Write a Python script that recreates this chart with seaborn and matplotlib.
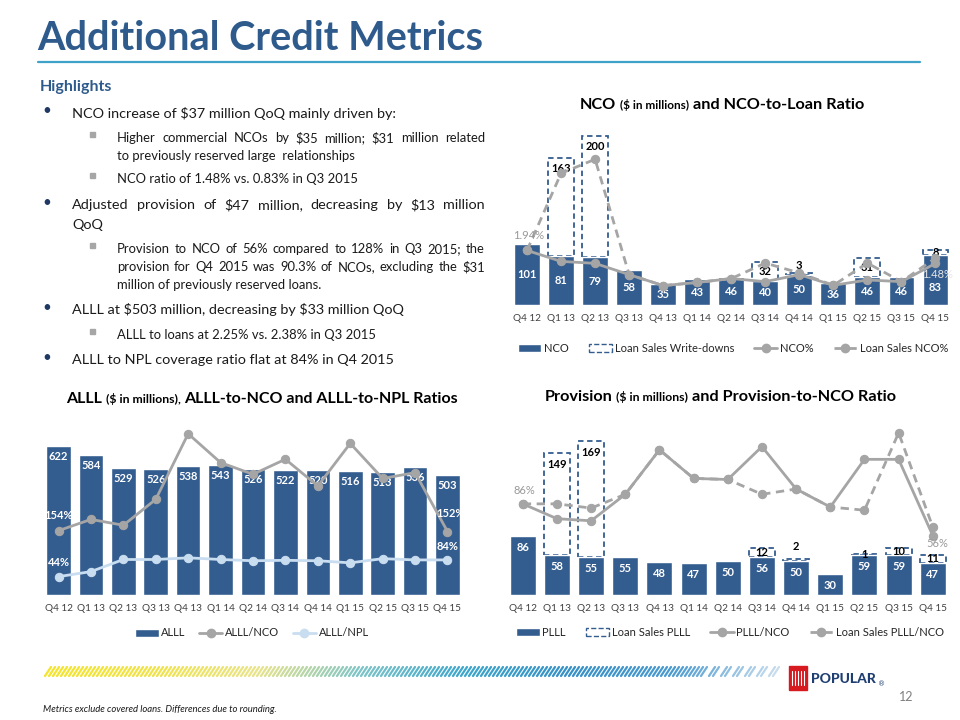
import numpy as np
import matplotlib
matplotlib.use('Agg')
import matplotlib.pyplot as plt
import seaborn as sns
from matplotlib.patches import Patch, Rectangle
from matplotlib.lines import Line2D
from matplotlib.colors import LinearSegmentedColormap

# data
quarters = ['Q4 12', 'Q1 13', 'Q2 13', 'Q3 13', 'Q4 13', 'Q1 14', 'Q2 14',
            'Q3 14', 'Q4 14', 'Q1 15', 'Q2 15', 'Q3 15', 'Q4 15']

nco = [101, 81, 79, 58, 35, 43, 46, 40, 50, 36, 46, 46, 83]
loan_sales_wd = [0, 163, 200, 0, 0, 0, 0, 32, 3, 0, 31, 0, 8]
nco_pct = [1.94, 1.55, 1.48, 1.08, 0.69, 0.80, 0.94, 0.83, 1.08, 0.70, 0.89, 0.83, 1.48]
loan_sales_nco_pct = [1.94, 4.68, 5.18, 1.08, 0.69, 0.80, 0.94, 1.49, 1.14, 0.70, 1.49, 0.83, 1.67]

alll = [622, 584, 529, 526, 538, 543, 526, 522, 520, 516, 513, 536, 503]
alll_nco = [154, 181, 167, 229, 386, 317, 289, 325, 261, 363, 279, 293, 152]
alll_npl = [44, 56, 85, 85, 89, 85, 82, 83, 82, 77, 87, 84, 84]

plll = [86, 58, 55, 55, 48, 47, 50, 56, 50, 30, 59, 59, 47]
loan_sales_plll = [0, 149, 169, 0, 0, 0, 0, 12, 2, 0, 1, 10, 11]
plll_nco = [86, 72, 70, 95, 137, 110, 109, 140, 100, 83, 128, 128, 56]
loan_sales_plll_nco = [86, 86, 82, 95, 137, 110, 109, 95, 100, 83, 80, 153, 64]

highlights = [
    ('main', 'NCO increase of $37 million QoQ mainly driven by:', False),
    ('sub', 'Higher commercial NCOs by $35 million; $31 million related', True),
    ('subc', 'to previously reserved large  relationships', False),
    ('sub', 'NCO ratio of 1.48% vs. 0.83% in Q3 2015', False),
    ('main', 'Adjusted provision of $47 million, decreasing by $13 million', True),
    ('mainc', 'QoQ', False),
    ('sub', 'Provision to NCO of 56% compared to 128% in Q3 2015; the', True),
    ('subc', 'provision for Q4 2015 was 90.3% of NCOs, excluding the $31', True),
    ('subc', 'million of previously reserved loans.', False),
    ('main', 'ALLL at $503 million, decreasing by $33 million QoQ', False),
    ('sub', 'ALLL to loans at 2.25% vs. 2.38% in Q3 2015', False),
    ('main', 'ALLL to NPL coverage ratio flat at 84% in Q4 2015', False),
]
highlight_y = [113, 138, 156, 179, 205, 225, 249, 267, 285, 310, 335, 360]

BAR = '#345D8F'
GRAY = '#A5A5A5'
LBLUE = '#C9DDF0'
TITLE = '#2E5B8C'
TXT = '#1A1A1A'
DASH = (0, (3, 2))

sns.set_theme(style='white')
plt.rcParams['font.family'] = ['Lato', 'DejaVu Sans']
plt.rcParams['text.parse_math'] = False

W, H = 960, 720
fig = plt.figure(figsize=(9.6, 7.2), dpi=100)
renderer = fig.canvas.get_renderer()


def fx(x):
    return x / W


def fy(y):
    return 1 - y / H


def add_ax(x0, y0, x1, y1):
    return fig.add_axes([fx(x0), fy(y1), (x1 - x0) / W, (y1 - y0) / H])


def text_width(s, **kw):
    t = fig.text(0, 0, s, **kw)
    w = t.get_window_extent(renderer).width
    t.remove()
    return w


def justified(x0, x1, y, s, **kw):
    words = s.split()
    widths = [text_width(w, **kw) for w in words]
    gap = (x1 - x0 - sum(widths)) / (len(words) - 1)
    x = x0
    for w, wd in zip(words, widths):
        fig.text(fx(x), fy(y), w, ha='left', va='center', **kw)
        x += wd + gap


def pieces(cx, y, parts, **kw):
    sw = text_width('x x', fontsize=11, **kw) - text_width('xx', fontsize=11, **kw)
    widths = [text_width(p, fontsize=s, **kw) for p, s in parts]
    total = sum(widths) + sw * (len(parts) - 1)
    x = cx - total / 2
    for (p, s), wd in zip(parts, widths):
        fig.text(fx(x), fy(y), p, fontsize=s, ha='left', va='baseline', **kw)
        x += wd + sw


def clean(ax, pad=6.5):
    for sp in ax.spines.values():
        sp.set_visible(False)
    ax.set_yticks([])
    ax.set_xlabel('')
    ax.set_ylabel('')
    ax.tick_params(axis='x', length=0, pad=pad, labelsize=7.2, labelcolor='#404040')


def lines(ax, solid, dashed, color):
    x = np.arange(len(quarters))
    if dashed is not None:
        sns.lineplot(x=x, y=dashed, ax=ax, color=color, linewidth=2, linestyle=DASH,
                     marker='o', markersize=6, markeredgecolor=color, sort=False)
    sns.lineplot(x=x, y=solid, ax=ax, color=color, linewidth=2,
                 marker='o', markersize=6, markeredgecolor=color, sort=False)


def boxes(ax, base, extra, big_pad, raise_px):
    idx = [i for i, v in enumerate(extra) if v]
    ax.bar(idx, [extra[i] for i in idx], bottom=[base[i] for i in idx], width=0.76,
           facecolor='white', edgecolor=BAR, linestyle=DASH, linewidth=1.3, zorder=1)
    for i in idx:
        v = extra[i]
        if v >= 100:
            ax.annotate(str(v), (i, base[i] + v), xytext=(0, -big_pad), textcoords='offset pixels',
                        ha='center', va='top', fontsize=8, fontweight='bold', color='black')
        else:
            ax.annotate(str(v), (i, base[i] + v / 2), xytext=(0, raise_px.get(i, 0)),
                        textcoords='offset pixels', ha='center', va='center',
                        fontsize=8, fontweight='bold', color='black', zorder=5)


def legend(handles, labels, cx, cy, ncol, spacing):
    fig.legend(handles, labels, loc='center', bbox_to_anchor=(fx(cx), fy(cy)), ncol=ncol,
               frameon=False, fontsize=8, handlelength=2.1, columnspacing=spacing,
               handletextpad=0.25, labelcolor='#262626')


# ---------- header ----------
fig.text(fx(37), fy(38), 'Additional Credit Metrics', fontsize=28.5, fontweight='bold',
         color=TITLE, ha='left', va='center')
fig.add_artist(Line2D([fx(38), fx(920)], [fy(62), fy(62)], color='#3FA3C9', lw=1.6))

fig.text(fx(40), fy(87), 'Highlights', fontsize=11.5, fontweight='bold', color=TITLE,
         ha='left', va='center')
for (kind, s, just), y in zip(highlights, highlight_y):
    if kind.startswith('main'):
        x0, fs = 72, 10.4
        if kind == 'main':
            fig.text(fx(42), fy(y - 2), '\u2022', fontsize=11, color='#1F3864', ha='left', va='center')
    else:
        x0, fs = 117, 9.4
        if kind == 'sub':
            fig.add_artist(Rectangle((fx(90), fy(y - 1)), 5 / W, 5 / H, color='#A6A6A6',
                                     transform=fig.transFigure))
    if just:
        justified(x0, 485, y, s, fontsize=fs, color=TXT)
    else:
        fig.text(fx(x0), fy(y), s, fontsize=fs, color=TXT, ha='left', va='center')

# ---------- NCO chart ----------
pieces(722, 109, [('NCO', 11.7), ('($ in millions)', 8.5), ('and NCO-to-Loan Ratio', 11.7)],
       fontweight='bold', color='black')
ax1 = add_ax(510, 130, 952.5, 305)
sns.barplot(x=quarters, y=nco, color=BAR, saturation=1, width=0.76, ax=ax1, zorder=2)
boxes(ax1, nco, loan_sales_wd, 5, {8: 8})
for i, v in enumerate(nco):
    ax1.annotate(str(v), (i, v / 2), xytext=(0, -8 if i == 12 else 0), textcoords='offset pixels',
                 ha='center', va='center', color='white', fontsize=8, fontweight='bold', zorder=4)
ax1.set_ylim(0, 289.7)
ax1.set_xlim(-0.5, 12.5)
clean(ax1)
ax1b = ax1.twinx()
lines(ax1b, nco_pct, loan_sales_nco_pct, GRAY)
ax1b.set_ylim(0, 6.22)
clean(ax1b)
ax1b.annotate(f'{nco_pct[0]:.2f}%', (0, nco_pct[0]), xytext=(2, 15), textcoords='offset pixels',
              ha='center', va='center', fontsize=8, color='#999999')
ax1b.annotate(f'{nco_pct[-1]:.2f}%', (12, nco_pct[-1]), xytext=(2, -11), textcoords='offset pixels',
              ha='center', va='center', fontsize=8, color='#E6E6E6')
legend([Patch(facecolor=BAR),
        Patch(facecolor='white', edgecolor=BAR, linestyle='--'),
        Line2D([], [], color=GRAY, lw=2, marker='o', ms=6),
        Line2D([], [], color=GRAY, lw=2, ls=DASH, marker='o', ms=6)],
       ['NCO', 'Loan Sales Write-downs', 'NCO%', 'Loan Sales NCO%'], 733, 348, 4, 1.8)

# ---------- ALLL chart ----------
pieces(262, 403, [('ALLL', 11.5), ('($ in millions),', 8.8), ('ALLL-to-NCO and ALLL-to-NPL Ratios', 11.5)],
       fontweight='bold', color='black')
ax2 = add_ax(42.3, 425, 463.7, 595)
sns.barplot(x=quarters, y=alll, color=BAR, saturation=1, width=0.76, ax=ax2)
for i, v in enumerate(alll):
    ax2.annotate(str(v), (i, v), xytext=(0, -5), textcoords='offset pixels', ha='center',
                 va='top', color='white', fontsize=8, fontweight='bold')
ax2.set_ylim(0, 709.8)
ax2.set_xlim(-0.5, 12.5)
clean(ax2)
ax2b = ax2.twinx()
lines(ax2b, alll_nco, None, GRAY)
lines(ax2b, alll_npl, None, LBLUE)
ax2b.set_ylim(0, 407)
clean(ax2b)
for i, series, off in [(0, alll_nco, (0, 15)), (0, alll_npl, (0, 14)),
                       (12, alll_nco, (3, 18)), (12, alll_npl, (0, 13))]:
    ax2b.annotate(f'{series[i]}%', (i, series[i]), xytext=off, textcoords='offset pixels',
                  ha='center', va='center', fontsize=8, fontweight='bold', color='white')
legend([Patch(facecolor=BAR),
        Line2D([], [], color=GRAY, lw=2, marker='o', ms=6),
        Line2D([], [], color=LBLUE, lw=2, marker='o', ms=6)],
       ['ALLL', 'ALLL/NCO', 'ALLL/NPL'], 252, 633, 3, 1.2)

# ---------- Provision chart ----------
pieces(720, 401, [('Provision', 11.7), ('($ in millions)', 8.8), ('and Provision-to-NCO Ratio', 11.7)],
       fontweight='bold', color='black')
ax3 = add_ax(505.7, 425, 949.9, 595)
sns.barplot(x=quarters, y=plll, color=BAR, saturation=1, width=0.76, ax=ax3, zorder=2)
boxes(ax3, plll, loan_sales_plll, 6, {8: 14})
for i, v in enumerate(plll):
    ax3.annotate(str(v), (i, v), xytext=(0, -6), textcoords='offset pixels', ha='center',
                 va='top', color='white', fontsize=8, fontweight='bold', zorder=4)
ax3.set_ylim(0, 247.8)
ax3.set_xlim(-0.5, 12.5)
clean(ax3)
ax3b = ax3.twinx()
lines(ax3b, plll_nco, loan_sales_plll_nco, GRAY)
ax3b.set_ylim(0, 160.4)
clean(ax3b)
ax3b.annotate(f'{plll_nco[0]}%', (0, plll_nco[0]), xytext=(2, 13), textcoords='offset pixels',
              ha='center', va='center', fontsize=8, color='#999999')
ax3b.annotate(f'{plll_nco[-1]}%', (12, plll_nco[-1]), xytext=(4, -8), textcoords='offset pixels',
              ha='center', va='center', fontsize=8, color='#999999')
legend([Patch(facecolor=BAR),
        Patch(facecolor='white', edgecolor=BAR, linestyle='--'),
        Line2D([], [], color=GRAY, lw=2, marker='o', ms=6),
        Line2D([], [], color=GRAY, lw=2, ls=DASH, marker='o', ms=6)],
       ['PLLL', 'Loan Sales PLLL', 'PLLL/NCO', 'Loan Sales PLLL/NCO'], 730, 632, 4, 1.8)

# ---------- footer ----------
stripe = LinearSegmentedColormap.from_list(
    'stripe', ['#F4E42C', '#F0E24A', '#E8E48A', '#7CC4C8', '#3DA6CB', '#3590C6', '#4A9AD0', '#C9DDEE'])
xs = np.arange(45, 775, 4.0)
for x in xs:
    t = (x - 45) / 730
    if t > 0.9 and int(x) % 3 == 0:
        continue
    fig.add_artist(Line2D([fx(x), fx(x + 6)], [fy(676), fy(667)], color=stripe(t), lw=1.6))
fig.add_artist(Rectangle((fx(789), fy(690)), 18 / W, 24 / H, color='#D71920',
                         transform=fig.transFigure))
for dx in [3, 6, 9, 12, 15]:
    fig.add_artist(Line2D([fx(789 + dx), fx(789 + dx)], [fy(685), fy(671)], color='white', lw=0.8))
fig.text(fx(811), fy(679), 'POPULAR', fontsize=10, color='#1F3F73', fontweight='black',
         ha='left', va='center')
fig.text(fx(878), fy(684), '\u00ae', fontsize=5, color='#1F3F73', ha='left', va='center',
         family='DejaVu Sans')
fig.text(fx(906), fy(697), '12', fontsize=9, color='#7F7F7F', ha='center', va='center')
fig.text(fx(43), fy(709), 'Metrics exclude covered loans. Differences due to rounding.',
         fontsize=6.8, style='italic', color=TXT, ha='left', va='center')

fig.savefig('out.png', dpi=100)
